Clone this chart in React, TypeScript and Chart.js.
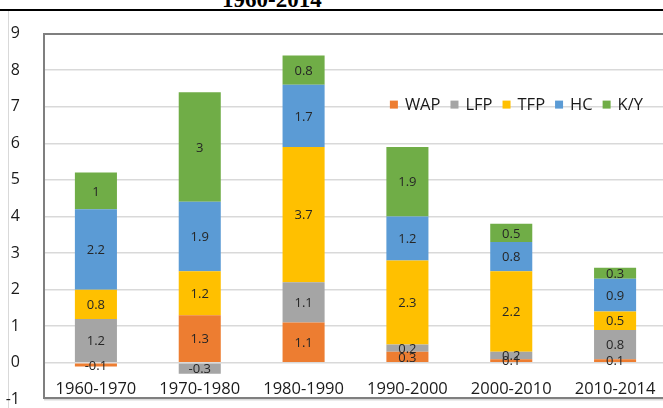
import React, { useEffect, useRef } from "react";
import { Chart, registerables } from "chart.js";

Chart.register(...registerables);

const categories = ["1960-1970", "1970-1980", "1980-1990", "1990-2000", "2000-2010", "2010-2014"];
const wap = [-0.1, 1.3, 1.1, 0.3, 0.1, 0.1];
const lfp = [1.2, -0.3, 1.1, 0.2, 0.2, 0.8];
const tfp = [0.8, 1.2, 3.7, 2.3, 2.2, 0.5];
const hc = [2.2, 1.9, 1.7, 1.2, 0.8, 0.9];
const ky = [1, 3, 0.8, 1.9, 0.5, 0.3];
const seriesNames = ["WAP", "LFP", "TFP", "HC", "K/Y"];
const seriesColors = ["#ED7D31", "#A5A5A5", "#FFC000", "#5B9BD5", "#70AD47"];
const yTicks = [-1, 0, 1, 2, 3, 4, 5, 6, 7, 8, 9];

const FONT = "'Open Sans', sans-serif";

const plotBorder = {
  id: "plotBorder",
  afterDraw(chart: any) {
    const { ctx, chartArea } = chart;
    const y = chart.scales.y;
    const top = Math.round(y.getPixelForValue(9));
    const bottom = Math.round(y.getPixelForValue(-1)) - 1;
    ctx.save();
    ctx.strokeStyle = "#7F7F7F";
    ctx.lineWidth = 2;
    ctx.beginPath();
    ctx.moveTo(chartArea.right + 5, top);
    ctx.lineTo(chartArea.left, top);
    ctx.lineTo(chartArea.left, bottom);
    ctx.lineTo(chartArea.right + 5, bottom);
    ctx.stroke();
    ctx.restore();
  },
};

const dataLabels = {
  id: "dataLabels",
  afterDatasetsDraw(chart: any) {
    const { ctx } = chart;
    ctx.save();
    ctx.font = `13px ${FONT}`;
    ctx.fillStyle = "#262626";
    ctx.textAlign = "center";
    ctx.textBaseline = "middle";
    chart.data.datasets.forEach((ds: any, i: number) => {
      const meta = chart.getDatasetMeta(i);
      meta.data.forEach((el: any, j: number) => {
        const v = ds.data[j];
        const p = el.getCenterPoint();
        ctx.fillText(String(v), p.x, p.y + 1);
      });
    });
    ctx.restore();
  },
};

const insideLegend = {
  id: "insideLegend",
  afterDraw(chart: any) {
    const { ctx, chartArea } = chart;
    ctx.save();
    ctx.font = `16.5px ${FONT}`;
    ctx.textBaseline = "middle";
    ctx.textAlign = "left";
    const box = 8;
    const gap = 7;
    const spacing = 10;
    const items = chart.data.datasets.map((ds: any) => ({
      label: ds.label,
      color: ds.backgroundColor,
      w: ctx.measureText(ds.label).width,
    }));
    const total = items.reduce((s: number, it: any) => s + box + gap + it.w, 0) + spacing * (items.length - 1);
    let x = chartArea.right - 24 - total;
    const y = chartArea.top + 71;
    items.forEach((it: any) => {
      ctx.fillStyle = it.color;
      ctx.fillRect(x, y - box / 2, box, box);
      x += box + gap;
      ctx.fillStyle = "#1a1a1a";
      ctx.fillText(it.label, x, y + 1);
      x += it.w + spacing;
    });
    ctx.restore();
  },
};

export default function App() {
  const ref = useRef<HTMLCanvasElement | null>(null);

  useEffect(() => {
    if (!ref.current) return;
    const values = [wap, lfp, tfp, hc, ky];
    const chart = new Chart(ref.current, {
      type: "bar",
      data: {
        labels: categories,
        datasets: seriesNames.map((name, i) => ({
          label: name,
          data: values[i],
          backgroundColor: seriesColors[i],
          borderWidth: 0,
          categoryPercentage: 1,
          barPercentage: 0.405,
        })),
      },
      options: {
        animation: false,
        responsive: false,
        devicePixelRatio: 1,
        layout: { padding: { left: 0, top: 31, right: 13, bottom: 10 } },
        plugins: {
          legend: { display: false },
          tooltip: { enabled: false },
          title: { display: false },
        },
        scales: {
          x: {
            type: "category",
            stacked: true,
            position: { y: 0 } as any,
            grid: { display: false, drawTicks: false },
            border: { display: false },
            ticks: {
              font: { family: FONT, size: 16.5 },
              color: "#1a1a1a",
              padding: 17,
              maxRotation: 0,
              autoSkip: false,
            },
          },
          y: {
            type: "linear",
            stacked: true,
            min: -1,
            max: 9,
            afterBuildTicks: (scale: any) => {
              scale.ticks = yTicks.map((v) => ({ value: v }));
            },
            afterFit: (scale: any) => {
              scale.width = 44;
            },
            grid: { color: "#D9D9D9", lineWidth: 1.5, drawTicks: false },
            border: { display: false },
            ticks: {
              font: { family: FONT, size: 16 },
              color: "#1a1a1a",
              padding: 24,
            },
          },
        },
      },
      plugins: [dataLabels, plotBorder, insideLegend],
    });
    return () => chart.destroy();
  }, []);

  return (
    <div
      style={{
        position: "fixed",
        left: 0,
        top: 0,
        width: 663,
        height: 408,
        overflow: "hidden",
        background: "#fff",
      }}
    >
      <div
        style={{
          position: "absolute",
          left: 222,
          top: -12,
          fontFamily: "'Liberation Serif', serif",
          fontWeight: "bold",
          fontSize: 23,
          lineHeight: "23px",
          whiteSpace: "nowrap",
          color: "#000",
        }}
      >
        1960-2014
      </div>
      <div style={{ position: "absolute", left: 0, right: 0, top: 9, height: 2, background: "#000" }} />
      <div style={{ position: "absolute", left: 8, top: 11, bottom: 0, width: 1, background: "#D9D9D9" }} />
      <canvas ref={ref} width={680} height={433} style={{ position: "absolute", left: 0, top: 0, width: 680, height: 433 }} />
    </div>
  );
}
